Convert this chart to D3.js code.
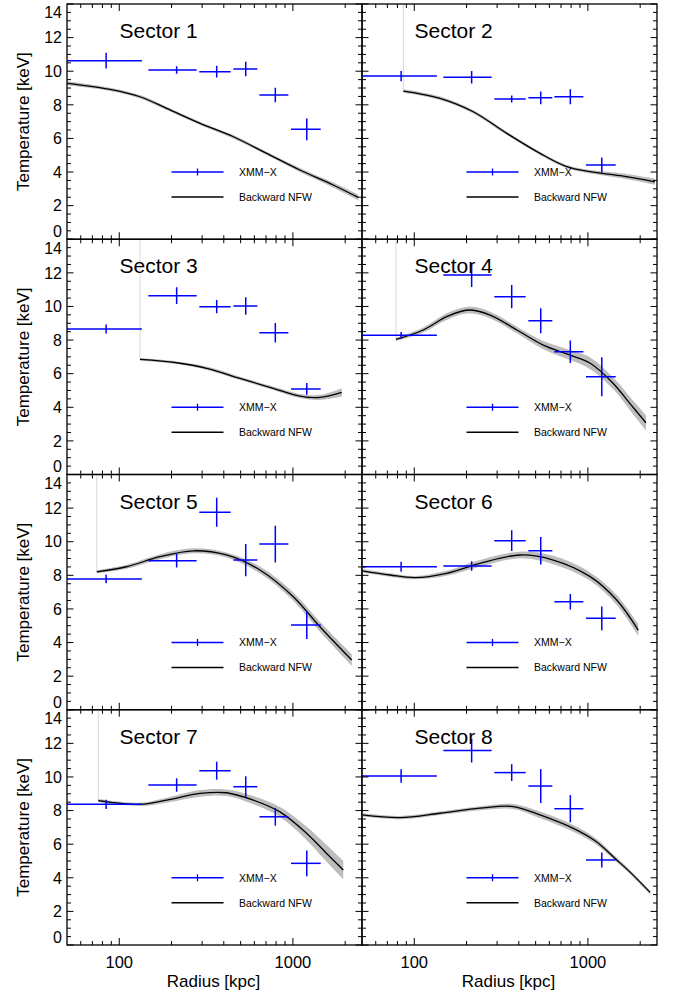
<!DOCTYPE html>
<html><head><meta charset="utf-8">
<script src="https://cdn.jsdelivr.net/npm/d3@7/dist/d3.min.js"></script>
<style>body{margin:0;background:#fff}svg{display:block}text{font-family:"Liberation Sans",Arial,Helvetica,sans-serif}</style>
</head><body><svg id="c" width="678" height="999"></svg>
<script>
const sectorNames = ["Sector 1","Sector 2","Sector 3","Sector 4","Sector 5","Sector 6","Sector 7","Sector 8"];
// radial bins (kpc)
const binLo = [30, 147, 289, 454, 641, 975];
const binHi = [135, 279, 438, 624, 942, 1446];
const binMid = [84, 214, 364, 535, 792, 1202];
// XMM-X temperatures (keV) per sector
const obsT = [
  [10.63,10.07,9.97,10.13,8.58,6.54],
  [9.71,9.64,8.35,8.42,8.48,4.42],
  [8.66,10.64,9.99,10.03,8.44,5.09],
  [8.28,11.87,10.58,9.15,7.31,5.82],
  [7.78,8.87,11.75,8.91,9.86,5.04],
  [8.51,8.55,10.06,9.46,6.43,5.44],
  [8.37,9.52,10.37,9.42,7.63,4.86],
  [10.06,11.57,10.26,9.46,8.11,5.06]
];
const obsErr = [
  [0.47,0.22,0.35,0.43,0.43,0.65],
  [0.31,0.37,0.21,0.38,0.44,0.45],
  [0.27,0.50,0.40,0.52,0.58,0.35],
  [0.20,0.71,0.69,0.74,0.67,1.16],
  [0.25,0.40,0.86,0.96,1.09,0.83],
  [0.30,0.28,0.62,0.82,0.46,0.71],
  [0.28,0.40,0.53,0.62,0.53,0.77],
  [0.40,0.71,0.50,1.01,0.81,0.45]
];
// Backward NFW model curves
const modelR = [
  [50,88.4,131.6,187.5,292,454,706,1096,1704,2378],
  [86.5,140.6,218.6,341,530,755,1031,1600,2431],
  [131.6,214,319,496,770,1096,1431,1912],
  [78.5,112.8,153.6,204.8,273.5,390,553,789,1031,1400,1744,2160],
  [74.2,110,171.6,267,414,645,1005,1431,2182],
  [50,72.5,101,153.6,239,407,632,1031,1465,1950],
  [75.7,131.6,187.5,292,414,592,842,1202,1564,1950],
  [50,82.8,140.6,239,372,530,824,1100,1466,1744,2282]
];
const modelT = [
  [9.28,8.92,8.48,7.79,6.90,6.10,5.11,4.12,3.23,2.49],
  [8.82,8.39,7.59,6.30,5.11,4.32,4.02,3.76,3.42],
  [6.85,6.65,6.32,5.72,5.13,4.67,4.59,4.89],
  [8.04,8.60,9.39,9.79,9.49,8.60,7.70,7.11,6.62,5.42,4.23,3.08],
  [8.21,8.51,9.11,9.46,9.21,8.32,6.73,4.94,2.96],
  [8.27,8.02,7.86,8.12,8.71,9.21,8.91,7.92,6.53,4.74],
  [8.59,8.37,8.62,9.02,9.06,8.62,7.92,6.64,5.45,4.46],
  [7.74,7.58,7.84,8.14,8.24,7.74,6.94,6.20,5.06,4.35,3.13]
];
const modelW = [
  [0.12,0.1,0.1,0.1,0.1,0.1,0.1,0.12,0.15,0.18],
  [0.1,0.1,0.1,0.1,0.1,0.1,0.1,0.15,0.18],
  [0.08,0.08,0.1,0.1,0.1,0.12,0.15,0.25],
  [0.1,0.15,0.2,0.2,0.2,0.2,0.25,0.3,0.35,0.35,0.4,0.45],
  [0.1,0.12,0.15,0.15,0.15,0.2,0.25,0.3,0.35],
  [0.1,0.1,0.1,0.15,0.2,0.2,0.25,0.25,0.3,0.35],
  [0.1,0.1,0.15,0.2,0.2,0.25,0.3,0.4,0.5,0.55],
  [0.1,0.1,0.1,0.12,0.15,0.2,0.2,0.18,0.14,0.12,0.12]
];
const yTicks = [0,2,4,6,8,10,12,14];
const xTickLabels = [100, 1000];
const xMinor = [60,70,80,90,200,300,400,500,600,700,800,900,2000];
const legendLabels = ["XMM\u2212X", "Backward NFW"];

const svg = d3.select("#c");
const lefts = [67, 362], W = 295, top0 = 4, H = 235.25;
const blue = "#0000ff";
const curve = d3.curveCatmullRom.alpha(0.5);

sectorNames.forEach((name, i) => {
  const col = i % 2, row = Math.floor(i / 2);
  const L = lefts[col], T = top0 + row * H;
  const x = d3.scaleLog().domain([50, 2500]).range([L, L + W]);
  const y = d3.scaleLinear().domain([0, 14]).range([T + H, T]);
  const g = svg.append("g");
  const cid = "clip" + i;
  svg.append("clipPath").attr("id", cid).append("rect").attr("x", L).attr("y", T).attr("width", W).attr("height", H);
  const pg = g.append("g").attr("clip-path", `url(#${cid})`);

  const pts = modelR[i].map((r, k) => ({r, t: modelT[i][k], w: modelW[i][k]}));
  // faint vertical line at model start
  pg.append("line").attr("x1", x(pts[0].r)).attr("x2", x(pts[0].r))
    .attr("y1", T).attr("y2", y(pts[0].t)).attr("stroke", "#d8d8d8").attr("stroke-width", 1);
  pg.append("path").datum(pts)
    .attr("d", d3.area().curve(curve).x(d => x(d.r)).y0(d => y(d.t - d.w)).y1(d => y(d.t + d.w)))
    .attr("fill", "#bdbdbd");
  pg.append("path").datum(pts)
    .attr("d", d3.line().curve(curve).x(d => x(d.r)).y(d => y(d.t)))
    .attr("fill", "none").attr("stroke", "#000").attr("stroke-width", 1.3);

  // data crosses
  binMid.forEach((m, k) => {
    const t = obsT[i][k], e = obsErr[i][k];
    pg.append("line").attr("x1", x(binLo[k])).attr("x2", x(binHi[k])).attr("y1", y(t)).attr("y2", y(t))
      .attr("stroke", blue).attr("stroke-width", 1.5);
    pg.append("line").attr("x1", x(m)).attr("x2", x(m)).attr("y1", y(t - e)).attr("y2", y(t + e))
      .attr("stroke", blue).attr("stroke-width", 1.5);
  });

  // frame
  g.append("rect").attr("x", L).attr("y", T).attr("width", W).attr("height", H)
    .attr("fill", "none").attr("stroke", "#000").attr("stroke-width", 1.3);
  // y ticks
  for (let v = 0; v <= 14; v += 0.5) {
    const len = (v % 2 === 0) ? 6.5 : 4;
    const yy = y(v);
    g.append("line").attr("x1", L).attr("x2", L + len).attr("y1", yy).attr("y2", yy).attr("stroke", "#000").attr("stroke-width", 1);
    g.append("line").attr("x1", L + W).attr("x2", L + W - len).attr("y1", yy).attr("y2", yy).attr("stroke", "#000").attr("stroke-width", 1);
  }
  // x ticks
  const xt = xTickLabels.map(v => ({v, len: 7})).concat(xMinor.map(v => ({v, len: 4})));
  xt.forEach(d => {
    const xx = x(d.v);
    g.append("line").attr("x1", xx).attr("x2", xx).attr("y1", T + H).attr("y2", T + H - d.len).attr("stroke", "#000").attr("stroke-width", 1);
    g.append("line").attr("x1", xx).attr("x2", xx).attr("y1", T).attr("y2", T + d.len).attr("stroke", "#000").attr("stroke-width", 1);
  });

  // y labels
  if (col === 0) {
    yTicks.forEach(v => {
      let yy = y(v);
      if (v === 14) yy += 8.5;
      if (v === 0) yy -= 8;
      g.append("text").attr("x", 62).attr("y", yy).attr("dy", "0.36em").attr("text-anchor", "end")
        .attr("font-size", 16).text(v);
    });
    g.append("text").attr("transform", `translate(23,${T + H / 2}) rotate(-90)`).attr("text-anchor", "middle")
      .attr("dy", "0.36em").attr("font-size", 17).text("Temperature [keV]");
  }
  if (row === 3) {
    xTickLabels.forEach(v => {
      g.append("text").attr("x", x(v)).attr("y", 962).attr("dy", "0.36em").attr("text-anchor", "middle")
        .attr("font-size", 16.5).text(v);
    });
    g.append("text").attr("x", L + W / 2 - 1).attr("y", 981).attr("dy", "0.36em").attr("text-anchor", "middle")
      .attr("font-size", 17).text("Radius [kpc]");
  }

  // sector title
  g.append("text").attr("x", L + 52.5).attr("y", T + 34).attr("font-size", 21).text(name);

  // legend
  const lx = L + 104.5, ly1 = T + 168, ly2 = T + 193;
  g.append("line").attr("x1", lx).attr("x2", lx + 52).attr("y1", ly1).attr("y2", ly1).attr("stroke", blue).attr("stroke-width", 1.5);
  g.append("line").attr("x1", lx + 26).attr("x2", lx + 26).attr("y1", ly1 - 3.5).attr("y2", ly1 + 3.5).attr("stroke", blue).attr("stroke-width", 1.3);
  g.append("text").attr("x", L + 172).attr("y", ly1).attr("dy", "0.36em").attr("font-size", 10.5).text(legendLabels[0]);
  g.append("line").attr("x1", lx).attr("x2", lx + 52).attr("y1", ly2).attr("y2", ly2).attr("stroke", "#000").attr("stroke-width", 1.3);
  g.append("text").attr("x", L + 172).attr("y", ly2).attr("dy", "0.36em").attr("font-size", 10.5).text(legendLabels[1]);
});
</script></body></html>
